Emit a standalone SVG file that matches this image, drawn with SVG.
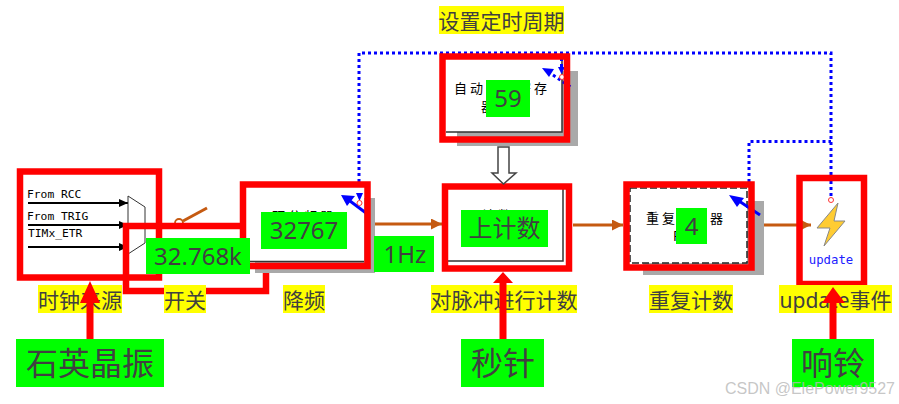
<svg xmlns="http://www.w3.org/2000/svg" width="899" height="404" viewBox="0 0 899 404">
<style>
.shadow{fill:#a9a9a9}
.white{fill:#fff}
.edge{stroke:#333;stroke-width:1.5;fill:none}
.red{fill:none;stroke:#f00;stroke-width:6.500}
.green{fill:#0f0}
.yellow{fill:#ff0}
.t{font-family:"Noto Sans","Noto Sans CJK SC",sans-serif;fill:#404040;text-anchor:middle}
.lab{font-size:21px}
.num{font-size:24px}
.big{font-size:32px}
.tiny{font-family:"Noto Sans CJK SC",sans-serif;font-size:13px;letter-spacing:3px;fill:#000}
.mono{font-family:"DejaVu Sans Mono",monospace;font-size:11.300px;fill:#000}
.brown{stroke:#c55a11;stroke-width:3;fill:none}
.dot{stroke:#00f;stroke-width:3;stroke-dasharray:3 3;fill:none}
.feed{stroke:#00f;stroke-width:3;fill:none}
.bl{fill:#00f}
.sel{fill:#fff;stroke:#f33;stroke-width:1}
.redarrow{fill:#f00}
.wire{stroke:#000;stroke-width:2;fill:none}
</style>
<defs>
<marker id="ab" markerUnits="userSpaceOnUse" markerWidth="12" markerHeight="12" refX="11" refY="5.500" orient="auto"><path d="M0 0L11 5.500L0 11z" fill="#c55a11"/></marker>
<marker id="ak" markerUnits="userSpaceOnUse" markerWidth="10" markerHeight="10" refX="9" refY="4" orient="auto"><path d="M0 0L9 4L0 8z" fill="#000"/></marker>
</defs>

<g id="connectors">
<path class="brown" marker-end="url(#ab)" d="M371 224H442"/>
<path class="brown" marker-end="url(#ab)" d="M573 225H623"/>
<path class="brown" marker-end="url(#ab)" d="M755 225H811"/>
<path class="dot" d="M359 182V53H831V197"/>
<path class="dot" d="M749 182V141.500H831"/>
</g>

<g id="clock-source">
<rect class="white" x="20" y="171" width="139" height="107"/>
<path class="wire" marker-end="url(#ak)" d="M28 203H128"/>
<path class="wire" marker-end="url(#ak)" d="M28 225H128"/>
<path class="wire" marker-end="url(#ak)" d="M28 247H128"/>
<path d="M128 196L145 207V243L128 254z" fill="#fff" stroke="#333" stroke-width="1"/>
<text class="mono" x="27" y="198">From RCC</text>
<text class="mono" x="27" y="220">From TRIG</text>
<text class="mono" x="28" y="237">TIMx_ETR</text>
<rect class="red" x="20" y="171.500" width="139" height="106"/>
</g>

<g id="switch">
<path class="brown" d="M183 221L207 208"/>
<circle cx="179" cy="223" r="4" fill="none" stroke="#c55a11" stroke-width="1.800"/>
<rect class="red" x="126" y="226" width="140" height="65"/>
</g>

<g id="prescaler">
<rect class="shadow" x="255" y="198" width="120" height="75"/>
<rect class="white" x="243" y="185" width="121" height="76"/>
<path class="edge" d="M246 261.500H364"/>
<text class="tiny" x="272" y="221">预分频器</text>
<path class="feed" d="M350 201L366 213"/>
<path class="bl" d="M341 195L355 196L347 206z"/>
<path class="bl" d="M356 193H363L359.500 201z"/>
<circle class="sel" cx="359.500" cy="203" r="2.500"/>
<rect class="red" x="243" y="184.500" width="124.500" height="81.500"/>
</g>

<g id="counter">
<rect class="white" x="445" y="187" width="124" height="81"/>
<path class="edge" d="M563 189V261H448"/>
<text class="tiny" x="482" y="220">计数器</text>
<rect class="red" x="445" y="186.500" width="124" height="82"/>
</g>

<g id="auto-reload">
<rect class="shadow" x="457" y="71" width="121" height="75"/>
<rect class="white" x="443" y="57" width="119" height="75"/>
<rect class="white" x="443" y="132" width="14" height="6"/>
<path class="edge" d="M562 60V132H446"/>
<text class="tiny" x="454" y="93">自动重装寄存</text>
<text class="tiny" x="481" y="111">器</text>
<path class="dot" d="M561.500 58V68"/>
<path class="dot" d="M553 75L572 88"/>
<path class="bl" d="M542 68L554 69L549 77z"/>
<path class="bl" d="M558 67H565L561.500 74z"/>
<circle class="sel" cx="562" cy="77" r="2.500"/>
<rect class="red" x="442.500" y="56.500" width="124.500" height="83"/>
</g>

<path id="load-arrow" d="M498 147H509V173H516L503.500 184L492 173H498z" fill="#fff" stroke="#444" stroke-width="1.500"/>

<g id="repeat-counter">
<rect class="shadow" x="643" y="201" width="121" height="74"/>
<rect class="white" x="630" y="188" width="117" height="75"/>
<rect x="630" y="188" width="117" height="75" fill="none" stroke="#222" stroke-width="1.500" stroke-dasharray="7 3"/>
<text class="tiny" x="646" y="223">重复计数器</text>
<text class="tiny" x="673" y="241">R</text>
<path class="feed" d="M739 201L760 215"/>
<path class="bl" d="M729 195L744 198L737 207z"/>
<rect class="red" x="626.500" y="184.500" width="125" height="83"/>
</g>

<g id="update">
<rect class="white" x="803" y="181" width="58" height="100"/>
<path class="brown" marker-end="url(#ab)" d="M803 225H811"/>
<path class="dot" d="M831 181V197"/>
<circle class="sel" cx="831" cy="200" r="2.500"/>
<rect class="red" x="799.500" y="178" width="64.500" height="106"/>
<path d="M838 203L817 228H830L824 246L845 221H834z" fill="#ffcc33" stroke="#888" stroke-width="1"/>
<text x="831" y="264" font-family="DejaVu Sans Mono,monospace" font-size="12.300" fill="#2020ff" text-anchor="middle">update</text>
</g>

<g id="value-labels">
<rect class="green" x="146" y="238" width="104" height="36"/>
<text class="t num" x="198" y="265">32.768k</text>
<rect class="green" x="261" y="212" width="86" height="37"/>
<text class="t num" x="304" y="239">32767</text>
<rect class="green" x="374" y="236" width="60" height="36"/>
<text class="t num" x="405" y="263">1Hz</text>
<rect class="green" x="461" y="210" width="87" height="37"/>
<text class="t num" x="504.500" y="237">上计数</text>
<rect class="green" x="486" y="80" width="44" height="37"/>
<text class="t num" x="508" y="107">59</text>
<rect class="green" x="676" y="208" width="31" height="36"/>
<text class="t num" x="691.500" y="235">4</text>
</g>

<g id="captions">
<rect class="yellow" x="439" y="6" width="125" height="28"/>
<text class="t lab" x="501.500" y="29">设置定时周期</text>
<rect class="yellow" x="38" y="285" width="84" height="28"/>
<text class="t lab" x="80" y="308">时钟来源</text>
<rect class="yellow" x="164" y="285" width="42" height="28"/>
<text class="t lab" x="185" y="308">开关</text>
<rect class="yellow" x="283" y="285" width="42" height="28"/>
<text class="t lab" x="304" y="308">降频</text>
<rect class="yellow" x="431" y="285" width="146" height="28"/>
<text class="t lab" x="504" y="308">对脉冲进行计数</text>
<rect class="yellow" x="649" y="285" width="84" height="28"/>
<text class="t lab" x="691" y="308">重复计数</text>
<rect class="yellow" x="779" y="285" width="113" height="28"/>
<text class="t lab" x="835.500" y="308">update事件</text>
</g>

<g id="callouts">
<path class="redarrow" d="M90 281L100 303H93.500V339H86.500V303H80z"/>
<path class="redarrow" d="M503 272L513 283H506.500V339H499.500V283H493z"/>
<path class="redarrow" d="M833 287L845 303H836.500V339H829.500V303H822z"/>
<rect class="green" x="16" y="339" width="148" height="48"/>
<text class="t big" x="90" y="375">石英晶振</text>
<rect class="green" x="461" y="339" width="83" height="48"/>
<text class="t big" x="503" y="375">秒针</text>
<rect class="green" x="792" y="339" width="82" height="48"/>
<text class="t big" x="833" y="375">响铃</text>
</g>

<text id="watermark" x="895" y="394" font-family="Liberation Sans,sans-serif" font-size="16" fill="#b8b8b8" fill-opacity=".8" text-anchor="end">CSDN @ElePower9527</text>
</svg>
